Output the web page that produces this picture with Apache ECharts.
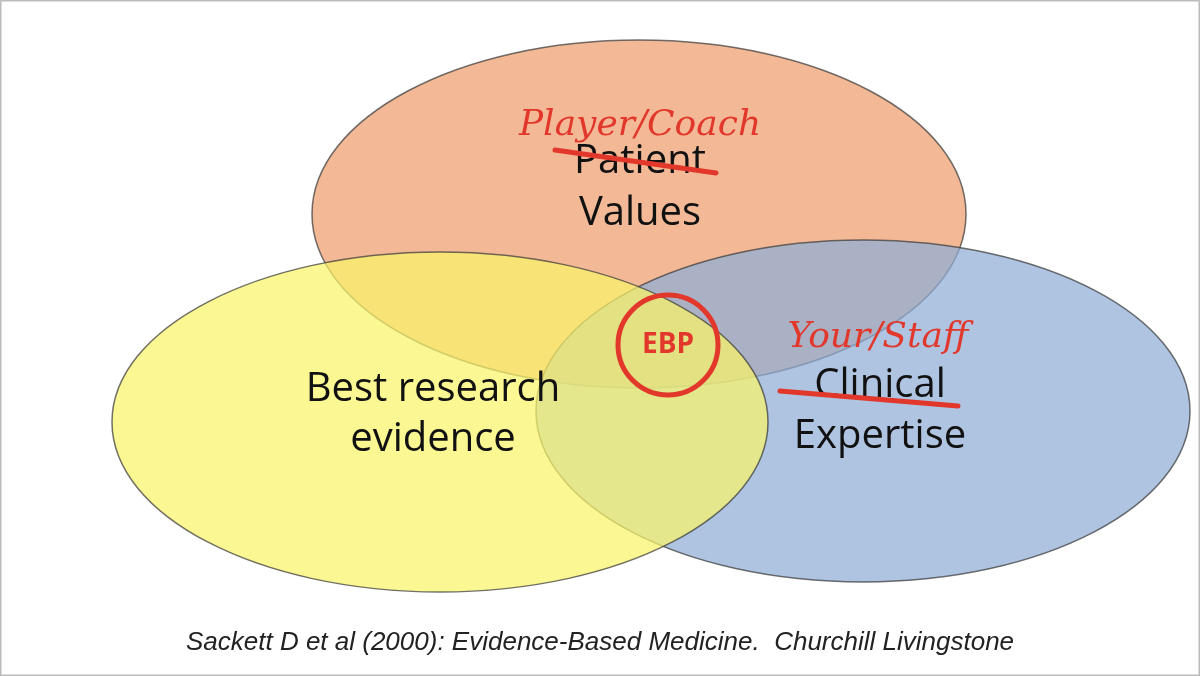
<!DOCTYPE html>
<html>
<head>
<meta charset="utf-8">
<script src="https://cdn.jsdelivr.net/npm/echarts@6/dist/echarts.min.js"></script>
<style>html,body{margin:0;padding:0;background:#fff}#c{width:1200px;height:676px}</style>
</head>
<body>
<div id="c"></div>
<script>
// circles (drawing order: orange, blue, yellow): name, cx, cy, rx, ry, colour
var circleNames = ['Patient Values', 'Clinical Expertise', 'Best research evidence'];
var circleX = [639, 863, 440];
var circleY = [214, 411, 422];
var circleRX = [327, 327, 328];
var circleRY = [174, 171, 170];
var circleColors = ['#EE9E6E', '#8FADD6', '#FAF46A'];

// black labels
var labelText = ['Patient', 'Values', 'Best research', 'evidence', 'Clinical', 'Expertise'];
var labelX = [640, 640, 433, 433, 880, 880];
var labelY = [162, 214, 390, 440, 386, 437];

// red annotations
var noteText = ['Player/Coach', 'Your/Staff'];
var noteX = [640, 878];
var noteY = [126, 338];
var strikeFrom = [[555, 150], [780, 391]];
var strikeTo = [[716, 173], [958, 406]];

var chart = echarts.init(document.getElementById('c'));

function pt(api, x, y) { return api.coord([x, y]); }

chart.setOption({
  animation: false,
  grid: {left: 0, right: 0, top: 0, bottom: 0},
  xAxis: {type: 'value', min: 0, max: 1200, show: false},
  yAxis: {type: 'value', min: 0, max: 676, inverse: true, show: false},
  series: [
    {
      type: 'custom',
      data: circleNames.map(function (n, i) { return [circleX[i], circleY[i], circleRX[i], circleRY[i], i]; }),
      renderItem: function (params, api) {
        var c = pt(api, api.value(0), api.value(1));
        var e = pt(api, api.value(0) + api.value(2), api.value(1) + api.value(3));
        return {
          type: 'ellipse',
          shape: {cx: c[0], cy: c[1], rx: e[0] - c[0], ry: e[1] - c[1]},
          style: {fill: circleColors[api.value(4)], opacity: 0.72, stroke: '#3a3a3a', lineWidth: 1.5}
        };
      }
    },
    {
      type: 'custom',
      data: labelText.map(function (t, i) { return [labelX[i], labelY[i], i]; }),
      renderItem: function (params, api) {
        var c = pt(api, api.value(0), api.value(1));
        return {type: 'text', style: {x: c[0], y: c[1], text: labelText[api.value(2)],
          fill: '#111', font: '40px "Open Sans", sans-serif', align: 'center', verticalAlign: 'middle'}};
      }
    },
    {
      type: 'custom',
      data: strikeFrom.map(function (p, i) { return [p[0], p[1], strikeTo[i][0], strikeTo[i][1]]; }),
      renderItem: function (params, api) {
        var a = pt(api, api.value(0), api.value(1));
        var b = pt(api, api.value(2), api.value(3));
        return {type: 'line', shape: {x1: a[0], y1: a[1], x2: b[0], y2: b[1]},
          style: {stroke: '#E2372B', lineWidth: 5, lineCap: 'round'}};
      }
    },
    {
      type: 'custom',
      data: noteText.map(function (t, i) { return [noteX[i], noteY[i], i]; }),
      renderItem: function (params, api) {
        var c = pt(api, api.value(0), api.value(1));
        return {type: 'text', style: {x: c[0], y: c[1], text: noteText[api.value(2)],
          fill: '#E2372B', font: 'italic 36px "DejaVu Serif", serif', align: 'center', verticalAlign: 'middle'}};
      }
    },
    {
      type: 'custom',
      data: [[668, 345, 50]],
      renderItem: function (params, api) {
        var c = pt(api, api.value(0), api.value(1));
        var r = pt(api, api.value(0) + api.value(2), api.value(1))[0] - c[0];
        return {type: 'group', children: [
          {type: 'circle', shape: {cx: c[0], cy: c[1], r: r}, style: {fill: 'none', stroke: '#E2372B', lineWidth: 5}},
          {type: 'text', style: {x: c[0], y: c[1], text: 'EBP', fill: '#E2372B',
            font: 'bold 28px "Open Sans", sans-serif', align: 'center', verticalAlign: 'middle'}}
        ]};
      }
    }
  ],
  graphic: [
    {type: 'rect', shape: {x: 0.5, y: 0.5, width: 1199, height: 675}, style: {fill: 'none', stroke: '#bbb', lineWidth: 2}},
    {type: 'text', left: 'center', top: 630, style: {text: 'Sackett D et al (2000): Evidence-Based Medicine.  Churchill Livingstone',
      fill: '#222', font: 'italic 26px "Liberation Sans", Arial, sans-serif'}}
  ]
});
</script>
</body>
</html>
